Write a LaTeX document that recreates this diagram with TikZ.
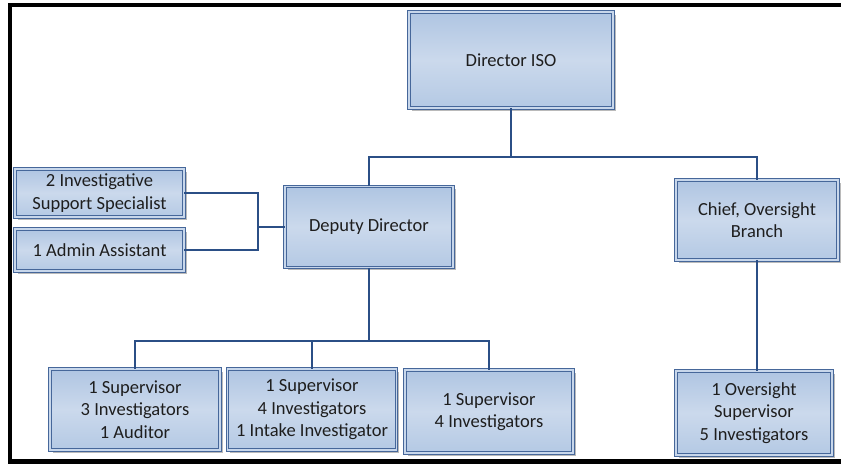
\documentclass[tikz,border=0pt]{standalone}
\usepackage{fontspec}
\setmainfont{Carlito}
\usetikzlibrary{shadows}
\definecolor{boxline}{HTML}{46679A}
\definecolor{boxtop}{HTML}{AFC5E2}
\definecolor{boxmid}{HTML}{CBD9EC}
\definecolor{boxbot}{HTML}{B4C9E4}
\definecolor{gapcol}{HTML}{C8D7EB}
\definecolor{conn}{HTML}{2B4F86}
\definecolor{txt}{HTML}{1E1E1E}
\tikzset{
  orgbox/.style={draw=boxline, line width=0.8pt, double=gapcol, double distance=1.6pt,
    top color=boxtop, bottom color=boxbot, middle color=boxmid,
    drop shadow={shadow xshift=2.5pt, shadow yshift=-2.5pt, fill=black!45, opacity=0.6},
    align=center, inner sep=0pt, text=txt,
    font=\fontsize{18.5}{22.5}\selectfont},
  connector/.style={draw=conn, line width=2pt},
  frame/.style={draw=black, line width=4.5pt}
}
\begin{document}
\begin{tikzpicture}[x=1pt,y=-1pt]
\useasboundingbox (0,0) rectangle (841,464);
\fill[white] (0,0) rectangle (841,464);
% frame
\coordinate (ftl) at (10,5);
\coordinate (ftr) at (841,5);
\coordinate (fbl) at (10,461.5);
\coordinate (fbr) at (841,461.5);
\draw[frame] (ftr) -- (ftl) -- (fbl) -- (fbr);
% nodes
\node[orgbox, minimum width=204pt, minimum height=96pt] (dir) at (511,60) {Director ISO};
\node[orgbox, minimum width=168pt, minimum height=81pt] (dep) at (369,227) {Deputy Director};
\node[orgbox, minimum width=169pt, minimum height=48pt] (inv) at (99.5,193) {2 Investigative\\Support Specialist};
\node[orgbox, minimum width=169pt, minimum height=42pt] (adm) at (99.5,250) {1 Admin Assistant};
\node[orgbox, minimum width=162pt, minimum height=80pt] (chief) at (757,220) {Chief, Oversight\\Branch};
\node[orgbox, minimum width=170pt, minimum height=81pt] (b1) at (135,409.5) {1 Supervisor\\3 Investigators\\1 Auditor};
\node[orgbox, minimum width=169pt, minimum height=81pt] (b2) at (312,409.5) {1 Supervisor\\4 Investigators\\1 Intake Investigator};
\node[orgbox, minimum width=168pt, minimum height=83pt] (b3) at (489,411.5) {1 Supervisor\\4 Investigators};
\node[orgbox, minimum width=156pt, minimum height=84pt] (ov) at (754,413) {1 Oversight\\Supervisor\\5 Investigators};
% connectors
\coordinate (bus1) at (0,157);
\coordinate (bus2) at (0,341);
\coordinate (lj) at (258,227);
\draw[connector] (dir.south) -- (dir.south |- bus1);
\draw[connector] (dep.north) |- (chief.north |- bus1) -- (chief.north);
\draw[connector] (inv.east) -| (lj) |- (adm.east);
\draw[connector] (lj) -- (dep.west);
\draw[connector] (dep.south) -- (dep.south |- bus2);
\draw[connector] (b1.north) |- (b3.north |- bus2) -- (b3.north);
\draw[connector] (b2.north) -- (b2.north |- bus2);
\draw[connector] (chief.south) -- (chief.south |- ov.north);
\end{tikzpicture}
\end{document}
